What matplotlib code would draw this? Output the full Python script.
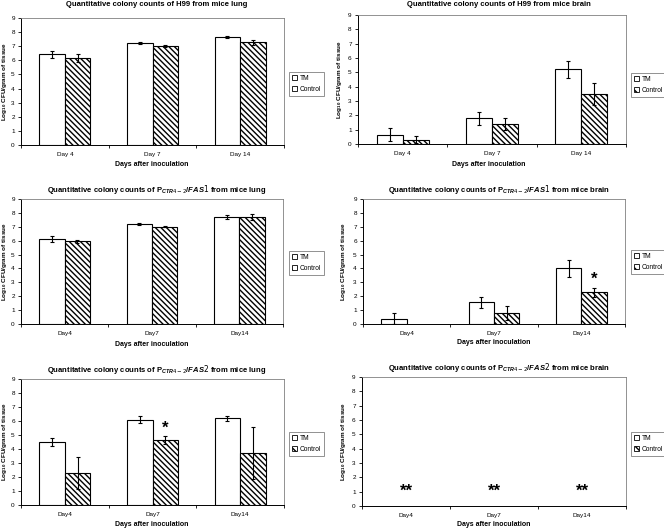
import matplotlib
matplotlib.use("Agg")
import matplotlib.pyplot as plt
import numpy as np
from matplotlib.patches import Patch

plt.rcParams["font.family"] = ["Liberation Sans", "DejaVu Sans"]
plt.rcParams["mathtext.fontset"] = "custom"
plt.rcParams["mathtext.it"] = "Liberation Sans:italic:bold"
plt.rcParams["mathtext.default"] = "regular"
plt.rcParams["hatch.linewidth"] = 1.0

W, H = 664, 528
NAN = np.nan

DAYS_A = ["Day 4", "Day 7", "Day 14"]
DAYS_B = ["Day4", "Day7", "Day14"]
YTICKS = list(range(10))

# H99, lung
h99_lung_tm = [6.42, 7.22, 7.65]
h99_lung_tm_err = [0.25, 0.05, 0.05]
h99_lung_ctl = [6.18, 7.0, 7.28]
h99_lung_ctl_err = [0.3, 0.08, 0.16]

# H99, brain
h99_brain_tm = [0.65, 1.8, 5.2]
h99_brain_tm_err = [0.45, 0.45, 0.62]
h99_brain_ctl = [0.3, 1.4, 3.48]
h99_brain_ctl_err = [0.25, 0.4, 0.75]

# PCTR4-2/FAS1, lung
fas1_lung_tm = [6.12, 7.2, 7.7]
fas1_lung_tm_err = [0.2, 0.1, 0.12]
fas1_lung_ctl = [5.95, 7.0, 7.7]
fas1_lung_ctl_err = [0.1, 0.05, 0.22]

# PCTR4-2/FAS1, brain (no control colonies on day 4)
fas1_brain_tm = [0.38, 1.55, 4.0]
fas1_brain_tm_err = [0.4, 0.42, 0.6]
fas1_brain_ctl = [NAN, 0.8, 2.28]
fas1_brain_ctl_err = [NAN, 0.5, 0.3]

# PCTR4-2/FAS2, lung
fas2_lung_tm = [4.5, 6.08, 6.18]
fas2_lung_tm_err = [0.3, 0.25, 0.2]
fas2_lung_ctl = [2.3, 4.65, 3.73]
fas2_lung_ctl_err = [1.15, 0.3, 1.85]

# PCTR4-2/FAS2, brain: no bars, only "**" marks
fas2_brain_tm = [NAN, NAN, NAN]
fas2_brain_ctl = [NAN, NAN, NAN]
fas2_brain_mark_y = [1, 1, 1]

BAR_W = 0.29
HATCH = "\\\\\\\\\\\\"


def px_axes(fig, left, right, top, bottom):
    return fig.add_axes([left / W, 1 - bottom / H, (right - left) / W, (bottom - top) / H])


def draw_panel(fig, rect, title, title_xy, xlab_xy, ylab_x, leg_xy, days,
               tm, tm_err, ctl, ctl_err, stars=()):
    ax = px_axes(fig, *rect)
    x = np.arange(len(days))
    tm = np.asarray(tm, float)
    ctl = np.asarray(ctl, float)
    ok = ~np.isnan(tm)
    ax.bar(x[ok] - BAR_W / 2, tm[ok], BAR_W, color="white", edgecolor="black", lw=0.8)
    ok = ~np.isnan(ctl)
    ax.bar(x[ok] + BAR_W / 2, ctl[ok], BAR_W, color="white", edgecolor="black",
           hatch=HATCH, lw=0.8)
    ekw = dict(fmt="none", ecolor="black", elinewidth=0.8, capsize=1.6, capthick=0.8)
    if tm_err is not None:
        e = np.asarray(tm_err, float)
        ok = ~np.isnan(e)
        ax.errorbar(x[ok] - BAR_W / 2, tm[ok], yerr=e[ok], **ekw)
    if ctl_err is not None:
        e = np.asarray(ctl_err, float)
        ok = ~np.isnan(e)
        ax.errorbar(x[ok] + BAR_W / 2, ctl[ok], yerr=e[ok], **ekw)
    for sx, sy, s in stars:
        ax.text(sx, sy, s, ha="center", va="center", fontsize=12, fontweight="bold")

    ax.set_xlim(-0.5, len(days) - 0.5)
    ax.set_ylim(0, 9)
    ax.set_yticks(YTICKS)
    ax.set_xticks(x)
    ax.set_xticklabels(days)
    ax.set_xticks(np.arange(len(days) + 1) - 0.5, minor=True)
    ax.tick_params(axis="x", which="major", length=0, labelsize=4.6, pad=5)
    ax.tick_params(axis="x", which="minor", length=2.5, width=0.6, direction="out")
    ax.tick_params(axis="y", length=2.5, width=0.6, labelsize=4.6, pad=2)
    for side in ("top", "right"):
        ax.spines[side].set_color("#808080")
        ax.spines[side].set_linewidth(0.6)
    for side in ("left", "bottom"):
        ax.spines[side].set_color("black")
        ax.spines[side].set_linewidth(0.7)

    fig.text(title_xy[0] / W, 1 - title_xy[1] / H, title, ha="center", va="center",
             fontsize=5.5, fontweight="bold")
    fig.text(xlab_xy[0] / W, 1 - xlab_xy[1] / H, "Days after inoculation", ha="center",
             va="center", fontsize=5.0, fontweight="bold")
    yc = (rect[2] + rect[3]) / 2
    fig.text(ylab_x / W, 1 - yc / H, "Log$_{10}$ CFU/gram of tissue", ha="center",
             va="center", rotation=90, fontsize=4.6, fontweight="bold")

    handles = [Patch(facecolor="white", edgecolor="black", lw=0.6),
               Patch(facecolor="white", edgecolor="black", hatch="\\\\\\", lw=0.6)]
    ax.legend(handles, ["TM", "Control"], loc="upper left",
              bbox_to_anchor=(leg_xy[0] / W, 1 - leg_xy[1] / H),
              bbox_transform=fig.transFigure, borderaxespad=0, fontsize=4.8,
              frameon=True, fancybox=False, edgecolor="#808080", framealpha=1,
              handlelength=0.8, handleheight=0.8, handletextpad=0.4,
              borderpad=0.45, labelspacing=0.55)
    ax.get_legend().get_frame().set_linewidth(0.6)
    return ax


fig = plt.figure(figsize=(W / 100, H / 100), dpi=100)

draw_panel(fig, (21, 284, 18, 145),
           "Quantitative colony counts of H99 from mice lung",
           (157, 5), (152, 165), 5, (289, 72), DAYS_A,
           h99_lung_tm, h99_lung_tm_err, h99_lung_ctl, h99_lung_ctl_err)

draw_panel(fig, (358, 626, 15, 144),
           "Quantitative colony counts of H99 from mice brain",
           (499, 5), (489, 164), 340, (631, 73), DAYS_A,
           h99_brain_tm, h99_brain_tm_err, h99_brain_ctl, h99_brain_ctl_err)

draw_panel(fig, (21, 283, 199, 324),
           r"Quantitative colony counts of P$_{\mathit{CTR4-2}}$/$\mathit{FAS1}$ from mice lung",
           (157, 189), (152, 344), 5, (289, 251), DAYS_B,
           fas1_lung_tm, fas1_lung_tm_err, fas1_lung_ctl, fas1_lung_ctl_err)

draw_panel(fig, (363, 625, 199, 324),
           r"Quantitative colony counts of P$_{\mathit{CTR4-2}}$/$\mathit{FAS1}$ from mice brain",
           (499, 190), (494, 343), 344, (631, 250), DAYS_B,
           fas1_brain_tm, fas1_brain_tm_err, fas1_brain_ctl, fas1_brain_ctl_err,
           stars=[(2 + BAR_W / 2, fas1_brain_ctl[2] + fas1_brain_ctl_err[2] + 0.65, "*")])

draw_panel(fig, (21, 284, 379, 505),
           r"Quantitative colony counts of P$_{\mathit{CTR4-2}}$/$\mathit{FAS2}$ from mice lung",
           (157, 369), (152, 524), 5, (289, 432), DAYS_B,
           fas2_lung_tm, fas2_lung_tm_err, fas2_lung_ctl, fas2_lung_ctl_err,
           stars=[(1 + BAR_W / 2, fas2_lung_ctl[1] + fas2_lung_ctl_err[1] + 0.55, "*")])

draw_panel(fig, (362, 626, 377, 506),
           r"Quantitative colony counts of P$_{\mathit{CTR4-2}}$/$\mathit{FAS2}$ from mice brain",
           (499, 368), (494, 524), 344, (631, 432), DAYS_B,
           fas2_brain_tm, None, fas2_brain_ctl, None,
           stars=[(i, y, "**") for i, y in enumerate(fas2_brain_mark_y)])

fig.savefig("out.png", dpi=100)
